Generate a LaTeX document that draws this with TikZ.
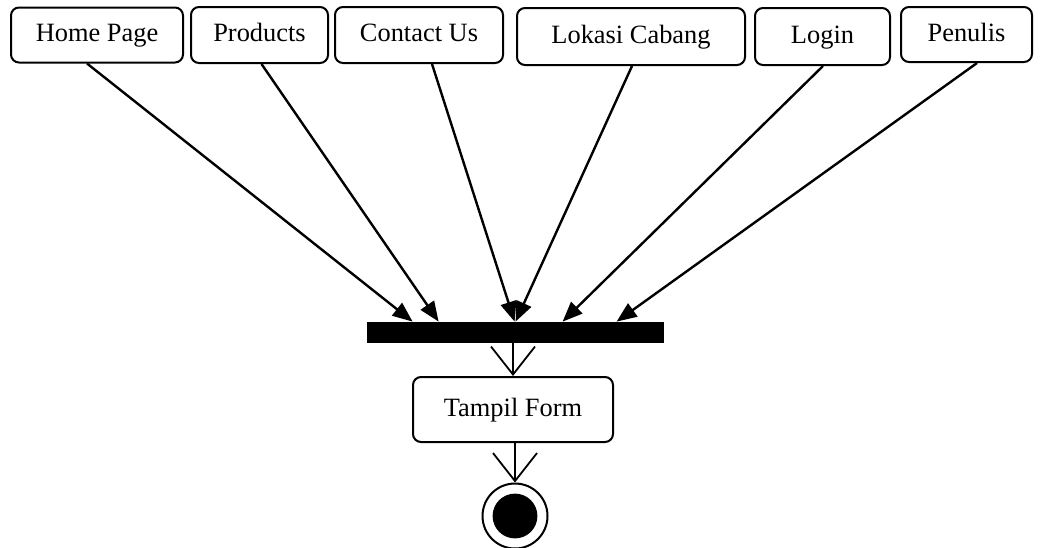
\documentclass[tikz,border=0pt]{standalone}
\usepackage{fontspec}
\setmainfont{Liberation Serif}
\usetikzlibrary{arrows.meta, calc}

\begin{document}
\begin{tikzpicture}[x=0.5pt, y=-0.5pt,
		act/.style={draw, line width=1pt, rounded corners=4pt, inner sep=0pt,
			text height=9pt, text depth=2.5pt, font=\fontsize{13.2}{15}\selectfont},
		flow/.style={line width=1.2pt, -{Triangle[length=10pt, width=8pt]}},
		open/.style={line width=0.9pt, -{Straight Barb[length=14pt, width=22pt]}}]
					\useasboundingbox (0,0) rectangle (1043,547);

					% menu pages
					\node[act, minimum width=86pt, minimum height=27.5pt] (home) at (97,35) {Home Page};
					\node[act, minimum width=68.5pt, minimum height=28pt] (prod) at (259.5,35) {Products};
					\node[act, minimum width=84pt, minimum height=28pt] (cont) at (419,35) {Contact Us};
					\node[act, minimum width=114pt, minimum height=28.5pt] (loka) at (631,36.5) {Lokasi Cabang};
					\node[act, minimum width=67.5pt, minimum height=28.5pt] (login) at (822.5,36.5) {Login};
					\node[act, minimum width=65.5pt, minimum height=27.5pt] (penu) at (966.5,34.5) {Penulis};

					% join bar
					\node[fill=black, inner sep=0pt, minimum width=148.5pt, minimum height=10.5pt] (bar) at (515.5,332.5) {};
					\foreach \n/\dx in {home/46, prod/72, cont/148, loka/149, login/196, penu/250}
					{
						\coordinate (in-\n) at ($(bar.north west)+(\dx,0)$);
					}

					\begin{scope}
						\draw[flow] ($(home.south)+(-10,0)$) -- (in-home);
						\draw[flow] ($(prod.south)+(2,0)$) -- (in-prod);
						\draw[flow] ($(cont.south)+(13,0)$) -- (in-cont);
						\draw[flow] ($(loka.south)+(1,0)$) -- (in-loka);
						\draw[flow] ($(login.south)+(0.5,0)$) -- (in-login);
						\draw[flow] ($(penu.south)+(10.5,0)$) -- (in-penu);
					\end{scope}

					% form and end
					\node[act, minimum width=100pt, minimum height=32.5pt] (form) at (513,409.5) {Tampil Form};
					\node[draw, circle, line width=1pt, minimum size=32.5pt, inner sep=0pt] (end) at (515,516) {};
					\fill (end) circle (11.2pt);

					\draw[open] (bar.south -| form.north) -- (form.north);
					\draw[open] (form.south -| end.north) -- (end.north);
				\end{tikzpicture}
\end{document}
